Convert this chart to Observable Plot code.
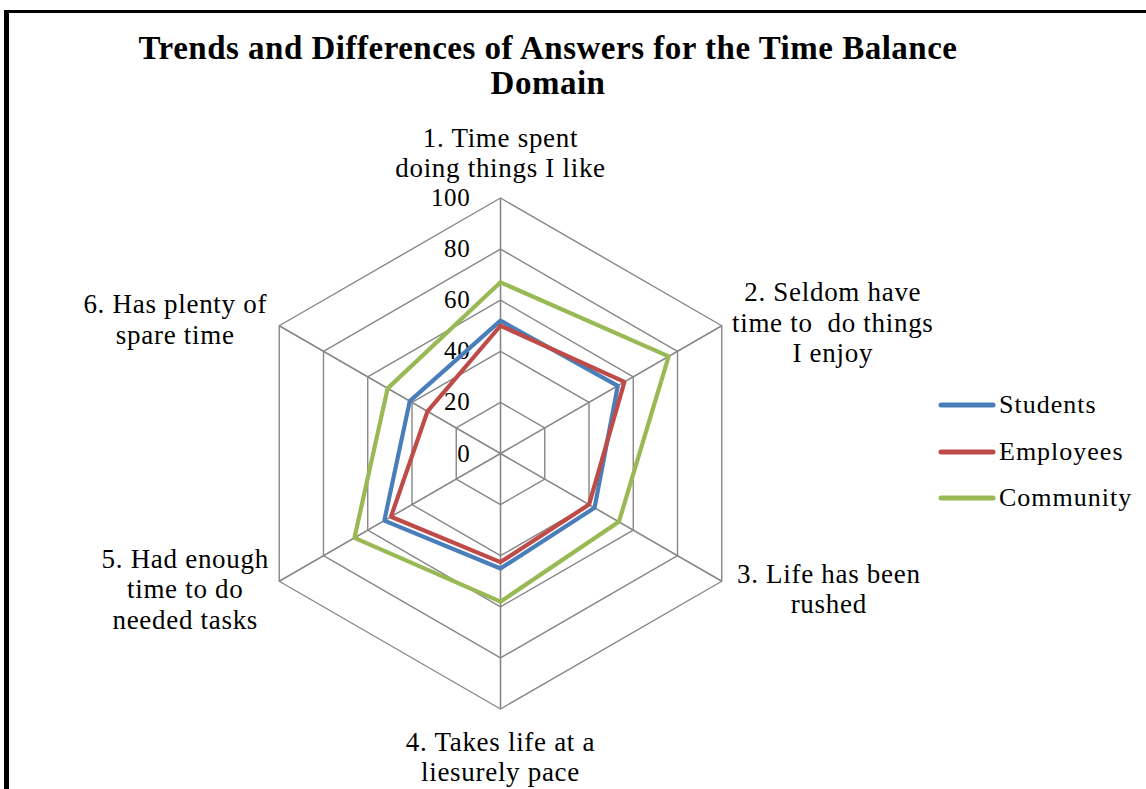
<!DOCTYPE html>
<html><head><meta charset="utf-8">
<script src="https://cdn.jsdelivr.net/npm/d3@7"></script>
<script src="https://cdn.jsdelivr.net/npm/@observablehq/plot@0.6"></script>
<style>
body{margin:0;background:#fff;}
#wrap{position:relative;width:1146px;height:789px;overflow:hidden;font-family:"Liberation Serif",serif;color:#000;background:#fff;}
#frame{position:absolute;left:4px;top:10px;width:1300px;height:900px;border-left:5px solid #000;border-top:3px solid #000;}
#chart{position:absolute;left:0;top:0;}
#title{position:absolute;left:0;width:1096px;top:31px;text-align:center;font-weight:bold;font-size:33px;letter-spacing:0.5px;line-height:35px;}
#legend{position:absolute;left:938px;top:382px;font-size:26px;letter-spacing:1px;}
.row{display:flex;align-items:center;height:46.5px;}
.row svg{margin-right:3px;}
</style>
</head><body>
<div id="wrap">
  <div id="frame"></div>
  <div id="chart"></div>
  <div id="title">Trends and Differences of Answers for the Time Balance<br>Domain</div>
  <div id="legend"></div>
</div>
<script>
const categories = [
  "1. Time spent\ndoing things I like",
  "2. Seldom have\ntime to  do things\nI enjoy",
  "3. Life has been\nrushed",
  "4. Takes life at a\nliesurely pace",
  "5. Had enough\ntime to do\nneeded tasks",
  "6. Has plenty of\nspare time"
];
const seriesNames = ["Students", "Employees", "Community"];
const students  = [52, 53, 42.5, 45, 52.5, 41];
const employees = [50, 56, 40, 42.5, 49.5, 33];
const community = [67, 76, 53.5, 58, 66, 51];
const tickValues = [0, 20, 40, 60, 80, 100];
const colors = ["#4A7EBB", "#BE4B48", "#98B954"];

const seriesValues = [students, employees, community];
const n = categories.length;
const ang = i => i * 2 * Math.PI / n;
const X = (r, i) => r * Math.sin(ang(i));
const Y = (r, i) => r * Math.cos(ang(i));
const pxPerUnit = 255.5 / 100;

// series polygons (closed)
const seriesRows = [];
seriesNames.forEach((s, si) => {
  const vals = seriesValues[si];
  for (let i = 0; i <= n; i++) {
    const v = vals[i % n];
    seriesRows.push({series: s, x: X(v, i), y: Y(v, i)});
  }
});

// grid rings
const ringRows = [];
tickValues.filter(t => t > 0).forEach(t => {
  for (let i = 0; i <= n; i++) ringRows.push({t, x: X(t, i), y: Y(t, i)});
});
const spokes = categories.map((c, i) => ({x2: X(100, i), y2: Y(100, i)}));

// label placement (pixel offsets from each outer vertex)
const labelOffsets = [[0, -46], [111, -4], [107, 7], [0, 47], [-94, 7], [-104, -7]];
const labelRows = categories.map((c, i) => ({
  text: c,
  x: X(100, i) + labelOffsets[i][0] / pxPerUnit,
  y: Y(100, i) - labelOffsets[i][1] / pxPerUnit
}));

const plot = Plot.plot({
  width: 1146,
  height: 789,
  marginLeft: 244.5,
  marginRight: 390.5,
  marginTop: 197.5,
  marginBottom: 80.5,
  x: {domain: [-100, 100], axis: null},
  y: {domain: [-100, 100], axis: null},
  color: {domain: seriesNames, range: colors},
  style: {fontFamily: "Liberation Serif, serif", fontSize: "27px", letterSpacing: "0.7px", color: "#000", background: "transparent"},
  marks: [
    Plot.line(ringRows, {x: "x", y: "y", z: "t", stroke: "#878787", strokeWidth: 1.4}),
    Plot.link(spokes, {x1: 0, y1: 0, x2: "x2", y2: "y2", stroke: "#878787", strokeWidth: 1.6}),
    Plot.text(tickValues, {x: 0, y: d => d, text: d => String(d), textAnchor: "end", dx: -30, fontSize: 25, fill: "#000"}),
    Plot.line(seriesRows, {x: "x", y: "y", z: "series", stroke: "series", strokeWidth: 4.2, strokeLinejoin: "miter", curve: "linear"}),
    Plot.text(labelRows, {x: "x", y: "y", text: "text", textAnchor: "middle", lineAnchor: "middle", lineHeight: 1.13, fontSize: 27, fill: "#000"})
  ]
});
document.getElementById("chart").appendChild(plot);

// legend
const leg = document.getElementById("legend");
seriesNames.forEach((s, i) => {
  const row = document.createElement("div");
  row.className = "row";
  row.innerHTML = `<svg width="58" height="10"><line x1="3" y1="5" x2="55" y2="5" stroke="${colors[i]}" stroke-width="5" stroke-linecap="round"/></svg><span>${s}</span>`;
  leg.appendChild(row);
});
</script>
</body></html>
